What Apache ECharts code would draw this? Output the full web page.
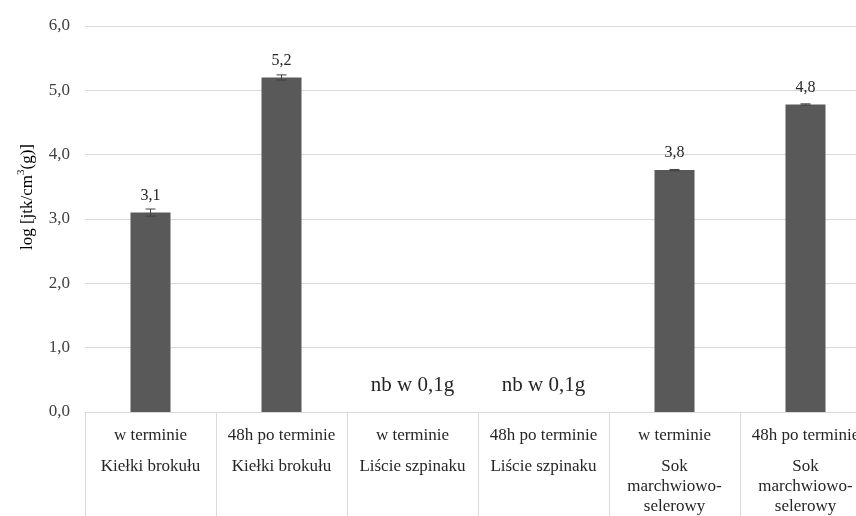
<!DOCTYPE html>
<html>
<head>
<meta charset="utf-8">
<script src="https://cdn.jsdelivr.net/npm/echarts@6/dist/echarts.min.js"></script>
<style>
  html, body { margin: 0; padding: 0; background: #ffffff; }
  #chart { width: 856px; height: 516px; }
</style>
</head>
<body>
<div id="chart"></div>
<script>
// Sampling time (first label row) and product (second label row) per bar
const timing = ['w terminie', '48h po terminie', 'w terminie', '48h po terminie', 'w terminie', '48h po terminie'];
const products = [
  ['Kiełki brokułu'],
  ['Kiełki brokułu'],
  ['Liście szpinaku'],
  ['Liście szpinaku'],
  ['Sok', 'marchwiowo-', 'selerowy'],
  ['Sok', 'marchwiowo-', 'selerowy']
];
// Mean log counts and their standard deviations
const values = [3.10, 5.20, 0, 0, 3.76, 4.78];
const errors = [0.055, 0.04, 0, 0, 0.01, 0.01];
// Samples where nothing was detected in 0.1 g
const notDetected = [false, false, true, true, false, false];
const notDetectedText = 'nb w 0,1g';
const yTicks = { min: 0, max: 6, step: 1 };

const FONT = 'Liberation Serif';
const comma = v => v.toFixed(1).replace('.', ',');

const barData = values.map((v, i) => {
  if (notDetected[i]) {
    return {
      value: v,
      label: {
        show: true, position: 'top', distance: 16,
        formatter: notDetectedText, fontSize: 21, lineHeight: 22, color: '#262626'
      }
    };
  }
  return v;
});

const chart = echarts.init(document.getElementById('chart'));
chart.setOption({
  animation: false,
  backgroundColor: '#ffffff',
  grid: { left: 85, top: 26, width: 786, height: 386, containLabel: false, outerBoundsMode: 'none' },
  xAxis: {
    type: 'category',
    data: timing,
    boundaryGap: true,
    axisLine: { lineStyle: { color: '#d9d9d9', width: 1 } },
    axisTick: { show: true, interval: 0, length: 110, lineStyle: { color: '#d9d9d9', width: 1 } },
    axisLabel: {
      interval: 0,
      margin: 12,
      fontFamily: FONT,
      color: '#262626',
      formatter: (value, idx) => {
        const lines = ['{t|' + value + '}', '{s| }'];
        products[idx].forEach(p => lines.push('{g|' + p + '}'));
        return lines.join('\n');
      },
      rich: {
        t: { fontFamily: FONT, fontSize: 17, lineHeight: 24, color: '#262626' },
        s: { fontFamily: FONT, fontSize: 6, lineHeight: 9 },
        g: { fontFamily: FONT, fontSize: 17, lineHeight: 20, color: '#262626' }
      }
    }
  },
  yAxis: {
    type: 'value',
    min: yTicks.min,
    max: yTicks.max,
    interval: yTicks.step,
    axisLine: { show: false },
    axisTick: { show: false },
    axisLabel: {
      margin: 15,
      fontFamily: FONT,
      fontSize: 17,
      color: '#404040',
      formatter: v => comma(v)
    },
    splitLine: { lineStyle: { color: '#d9d9d9', width: 1 } }
  },
  graphic: [{
    type: 'text',
    x: 28,
    y: 197,
    rotation: Math.PI / 2,
    style: {
      text: '{a|log [jtk/cm}{sup|3}{a|(g)]}',
      rich: {
        a: { fontFamily: FONT, fontSize: 17, lineHeight: 24, fill: '#000000' },
        sup: { fontFamily: FONT, fontSize: 11, lineHeight: 24, verticalAlign: 'top', fill: '#000000' }
      },
      align: 'center',
      verticalAlign: 'middle'
    }
  }],
  series: [
    {
      type: 'bar',
      data: barData,
      barWidth: 40,
      itemStyle: { color: '#595959' },
      label: {
        show: true,
        position: 'top',
        distance: 8,
        fontFamily: FONT,
        fontSize: 16,
        lineHeight: 18,
        color: '#262626',
        formatter: p => comma(p.value)
      }
    },
    {
      type: 'custom',
      data: values.map((v, i) => [i, v, errors[i]]),
      z: 5,
      renderItem: (params, api) => {
        const i = api.value(0);
        const v = api.value(1);
        const e = api.value(2);
        if (!e) return null;
        const hi = api.coord([i, v + e]);
        const lo = api.coord([i, v - e]);
        const half = 5;
        const style = { stroke: '#404040', lineWidth: 1 };
        return {
          type: 'group',
          children: [
            { type: 'line', shape: { x1: hi[0], y1: hi[1], x2: lo[0], y2: lo[1] }, style },
            { type: 'line', shape: { x1: hi[0] - half, y1: hi[1], x2: hi[0] + half, y2: hi[1] }, style },
            { type: 'line', shape: { x1: lo[0] - half, y1: lo[1], x2: lo[0] + half, y2: lo[1] }, style }
          ]
        };
      }
    }
  ]
});
</script>
</body>
</html>
